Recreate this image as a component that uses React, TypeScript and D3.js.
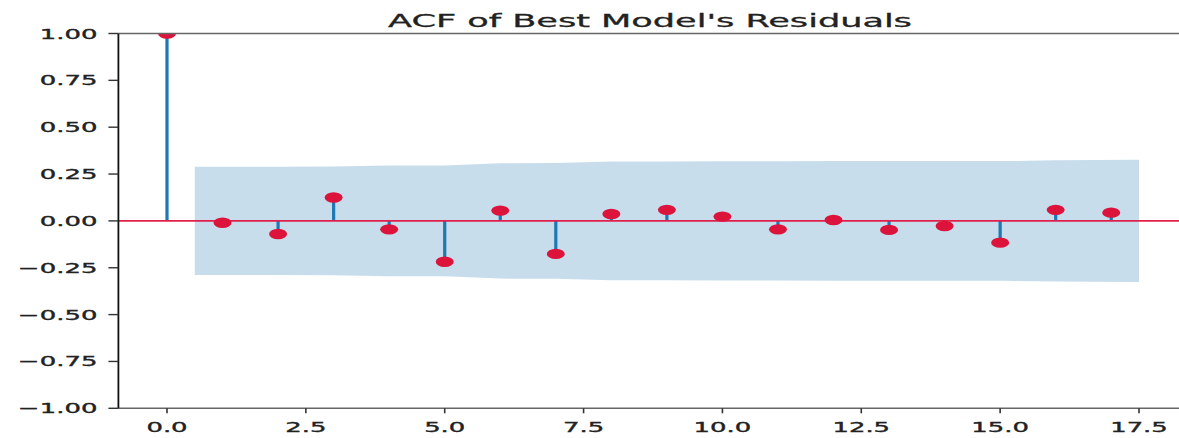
import React from "react";
import * as d3 from "d3";

const lags = [0, 1, 2, 3, 4, 5, 6, 7, 8, 9, 10, 11, 12, 13, 14, 15, 16, 17];
const acfValues = [1.0, -0.01, -0.07, 0.125, -0.045, -0.218, 0.055, -0.176, 0.037, 0.059, 0.023, -0.045, 0.005, -0.048, -0.027, -0.116, 0.059, 0.044];
// confidence band half-width for lags 1..17 (band x runs 0.5 .. 17.5)
const bandX = [0.5, 2, 3, 4, 5, 6, 7, 8, 9, 10, 11, 12, 13, 14, 15, 16, 17.5];
const bandHalf = [0.289, 0.289, 0.29, 0.295, 0.295, 0.308, 0.309, 0.317, 0.317, 0.318, 0.318, 0.319, 0.319, 0.319, 0.319, 0.323, 0.326];
const xTicks = [0, 2.5, 5, 7.5, 10, 12.5, 15, 17.5];
const yTicks = [-1, -0.75, -0.5, -0.25, 0, 0.25, 0.5, 0.75, 1];
const title = "ACF of Best Model's Residuals";

const W = 1179;
const H = 438;
const SX = 1.85; // horizontal stretch of text in the reference

export default function App() {
  const x = d3.scaleLinear().domain([0, 17.5]).range([167, 1139]);
  const y = d3.scaleLinear().domain([-1, 1]).range([408.3, 33.5]);
  const left = x(-0.875);
  const right = x(18.375);

  const area = d3
    .area<number>()
    .x((_, i) => x(bandX[i]))
    .y0((d) => y(-d))
    .y1((d) => y(d));

  const font = "'DejaVu Sans', sans-serif";

  return (
    <svg
      width={W}
      height={H}
      style={{ position: "absolute", left: 0, top: 0, background: "#fff" }}
      fontFamily={font}
    >
      <defs>
        <clipPath id="plot">
          <rect x={left} y={y(1)} width={right - left} height={y(-1) - y(1)} />
        </clipPath>
      </defs>
      <g clipPath="url(#plot)">
        {/* stems */}
        {lags.map((l, i) => (
          <line
            key={"s" + l}
            x1={x(l)}
            x2={x(l)}
            y1={y(0)}
            y2={y(acfValues[i])}
            stroke="#1f77b4"
            strokeWidth={3.2}
          />
        ))}
        {/* confidence band */}
        <path d={area(bandHalf) || ""} fill="#1f77b4" fillOpacity={0.25} />
        {/* zero line */}
        <line x1={left} x2={right} y1={y(0)} y2={y(0)} stroke="#e0204a" strokeWidth={1.8} />
        {/* markers */}
        {lags.map((l, i) => (
          <ellipse
            key={"m" + l}
            cx={x(l)}
            cy={y(acfValues[i])}
            rx={9}
            ry={5.2}
            fill="#dc143c"
          />
        ))}
      </g>
      {/* spines */}
      <line x1={left} x2={right} y1={y(1)} y2={y(1)} stroke="#666" strokeWidth={1.6} />
      <line x1={left} x2={right} y1={y(-1)} y2={y(-1)} stroke="#666" strokeWidth={1.6} />
      <line x1={left} x2={left} y1={y(1)} y2={y(-1)} stroke="#111" strokeWidth={1.8} />

      {/* y ticks */}
      {yTicks.map((t) => (
        <g key={"yt" + t}>
          <line x1={left - 10} x2={left} y1={y(t)} y2={y(t)} stroke="#333" strokeWidth={1.4} />
          <g transform={`translate(${left - 21},${y(t) + 5}) scale(${SX},1)`}>
            <text textAnchor="end" fontSize={14} fill="#222" stroke="#222" strokeWidth={0.35}>
              {d3.format(".2f")(t).replace("-", "\u2212")}
            </text>
          </g>
        </g>
      ))}
      {/* x ticks */}
      {xTicks.map((t) => (
        <g key={"xt" + t}>
          <line x1={x(t)} x2={x(t)} y1={y(-1)} y2={y(-1) + 5} stroke="#333" strokeWidth={1.6} />
          <g transform={`translate(${x(t)},${432}) scale(${SX},1)`}>
            <text textAnchor="middle" fontSize={14} fill="#222" stroke="#222" strokeWidth={0.35}>
              {d3.format(".1f")(t)}
            </text>
          </g>
        </g>
      ))}
      {/* title */}
      <g transform={`translate(${(left + right) / 2 - 3},${26.5}) scale(1.95,1)`}>
        <text textAnchor="middle" fontSize={18} fill="#222" stroke="#222" strokeWidth={0.3}>
          {title}
        </text>
      </g>
    </svg>
  );
}
